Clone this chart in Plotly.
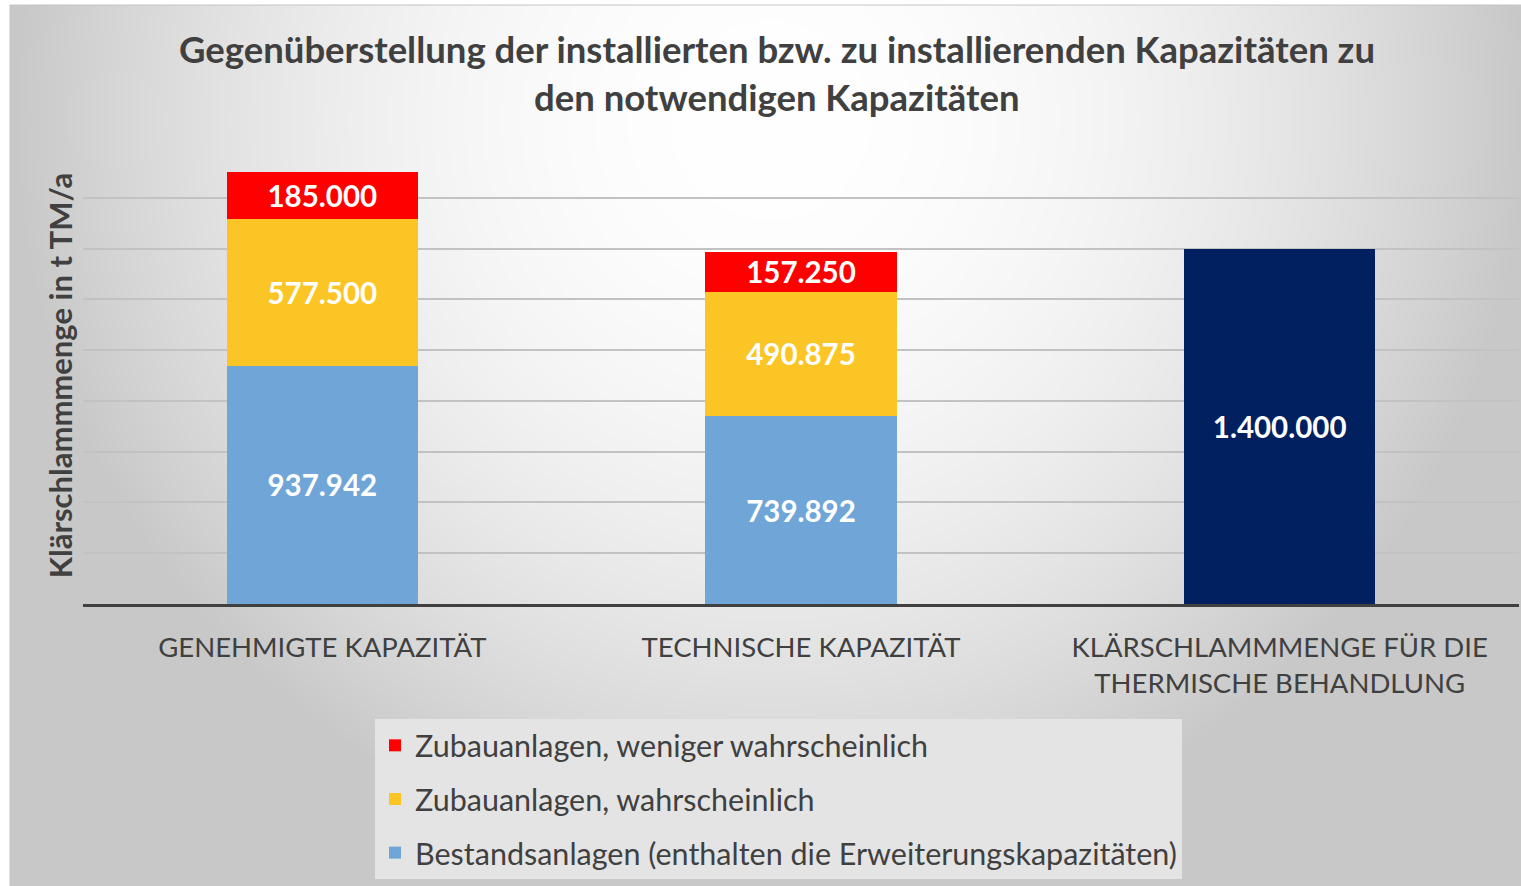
import base64, struct, zlib
import numpy as np
import plotly.graph_objects as go

# ---------------- data ----------------
categories = ["GENEHMIGTE KAPAZITÄT", "TECHNISCHE KAPAZITÄT",
              "KLÄRSCHLAMMMENGE FÜR DIE<br>THERMISCHE BEHANDLUNG"]
bestand = [937942, 739892, None]
wahrscheinlich = [577500, 490875, None]
weniger = [185000, 157250, None]
menge = [None, None, 1400000]

names = ["Bestandsanlagen (enthalten die Erweiterungskapazitäten)",
         "Zubauanlagen, wahrscheinlich",
         "Zubauanlagen, weniger wahrscheinlich",
         "Klärschlammmenge für die thermische Behandlung"]
colors = ["#6FA5D7", "#FCC526", "#FF0000", "#00205F"]
legend_ranks = [3, 2, 1, 4]

title_1 = "Gegenüberstellung der installierten bzw. zu installierenden Kapazitäten zu"
title_2 = "den notwendigen Kapazitäten"
y_title = "Klärschlammmenge in t TM/a"

# ---------------- geometry ----------------
W, H = 1521, 886
ML, MR, MT, MB = 83, 2, 147, 282
PW, PH = W - ML - MR, H - MT - MB


def px_x(px):
    return (px - ML) / PW


def px_y(py):
    return (H - MB - py) / PH


# ---------------- background gradient (PNG data uri) ----------------
def gradient_uri(w=378, h=220):
    xs = 10 + (np.arange(w) + 0.5) * (W - 10) / w
    ys = 5 + (np.arange(h) + 0.5) * (H - 5) / h
    X, Y = np.meshgrid(xs, ys)
    d2 = ((X - 770) ** 2 + (Y - 120) ** 2) / 760.0 ** 2
    val = (255 - 55 * np.minimum(1.0, d2)).astype(np.uint8)
    raw = b"".join(b"\x00" + val[r].tobytes() for r in range(h))

    def chunk(t, d):
        c = t + d
        return struct.pack(">I", len(d)) + c + struct.pack(">I", zlib.crc32(c) & 0xffffffff)

    png = b"\x89PNG\r\n\x1a\n" + chunk(b"IHDR", struct.pack(">IIBBBBB", w, h, 8, 0, 0, 0, 0)) \
        + chunk(b"IDAT", zlib.compress(raw, 9)) + chunk(b"IEND", b"")
    return "data:image/png;base64," + base64.b64encode(png).decode()


def fmt(v):
    return "" if v is None else f"{v:,}".replace(",", ".")


fig = go.Figure()
series = [bestand, wahrscheinlich, weniger, menge]
for i, (vals, name, col) in enumerate(zip(series, names, colors)):
    fig.add_trace(go.Bar(
        x=categories, y=vals, name=name,
        marker=dict(color=col, line=dict(width=0)),
        text=[fmt(v) for v in vals], texttemplate="%{text}",
        textposition="inside", insidetextanchor="middle",
        textfont=dict(family="Lato", size=29.5, color="white", weight="bold"),
        constraintext="none",
        showlegend=(i < 3), legendgroup=f"g{i}", legendrank=legend_ranks[i],
        hoverinfo="skip",
    ))

TXT = "#404040"
fig.update_layout(
    width=W, height=H,
    margin=dict(l=ML, r=MR, t=MT, b=MB, autoexpand=False),
    paper_bgcolor="white", plot_bgcolor="rgba(0,0,0,0)",
    barmode="stack", bargap=0.6,
    uniformtext=dict(minsize=29, mode="show"),
    font=dict(family="Lato", color=TXT),
    title=dict(text=title_1, x=px_x(777), xref="paper", xanchor="center",
               y=1 - 50 / H, yref="container", yanchor="middle",
               font=dict(family="Lato", size=36.5, color=TXT, weight="bold")),
    xaxis=dict(showline=True, linecolor=TXT, linewidth=3, ticks="",
               tickfont=dict(family="Lato", size=27.5, color=TXT),
               ticklabelstandoff=17, showgrid=False),
    yaxis=dict(range=[0, 1800500], dtick=200000, showticklabels=False,
               showgrid=True, gridcolor="#c2c2c2", gridwidth=2,
               zeroline=False, ticks="",
               title=dict(text=y_title, standoff=0,
                          font=dict(family="Lato", size=31, color=TXT, weight="bold"))),
    legend=dict(x=px_x(375), xanchor="left", y=px_y(719), yanchor="top",
                traceorder="grouped", tracegroupgap=11,
                bgcolor="#e4e4e4", font=dict(family="Lato", size=30.5, color=TXT),
                itemclick=False),
    images=[dict(source=gradient_uri(), xref="paper", yref="paper",
                 x=px_x(10), y=px_y(5), sizex=(W - 10) / PW, sizey=(H - 5) / PH,
                 sizing="stretch", layer="below", xanchor="left", yanchor="top")],
    annotations=[dict(text=title_2, x=px_x(777), xref="paper", xanchor="center",
                      y=px_y(97), yref="paper", yanchor="middle", showarrow=False,
                      font=dict(family="Lato", size=36.5, color=TXT, weight="bold"))],
    shapes=[dict(type="rect", xref="paper", yref="paper", x0=px_x(10), x1=px_x(W + 5),
                 y0=px_y(H + 5), y1=px_y(5), line=dict(color="#c4c4c4", width=1),
                 layer="below")],
)

fig.write_html("out.html", config={"displayModeBar": False},
               post_script="document.body.style.margin='0';")
